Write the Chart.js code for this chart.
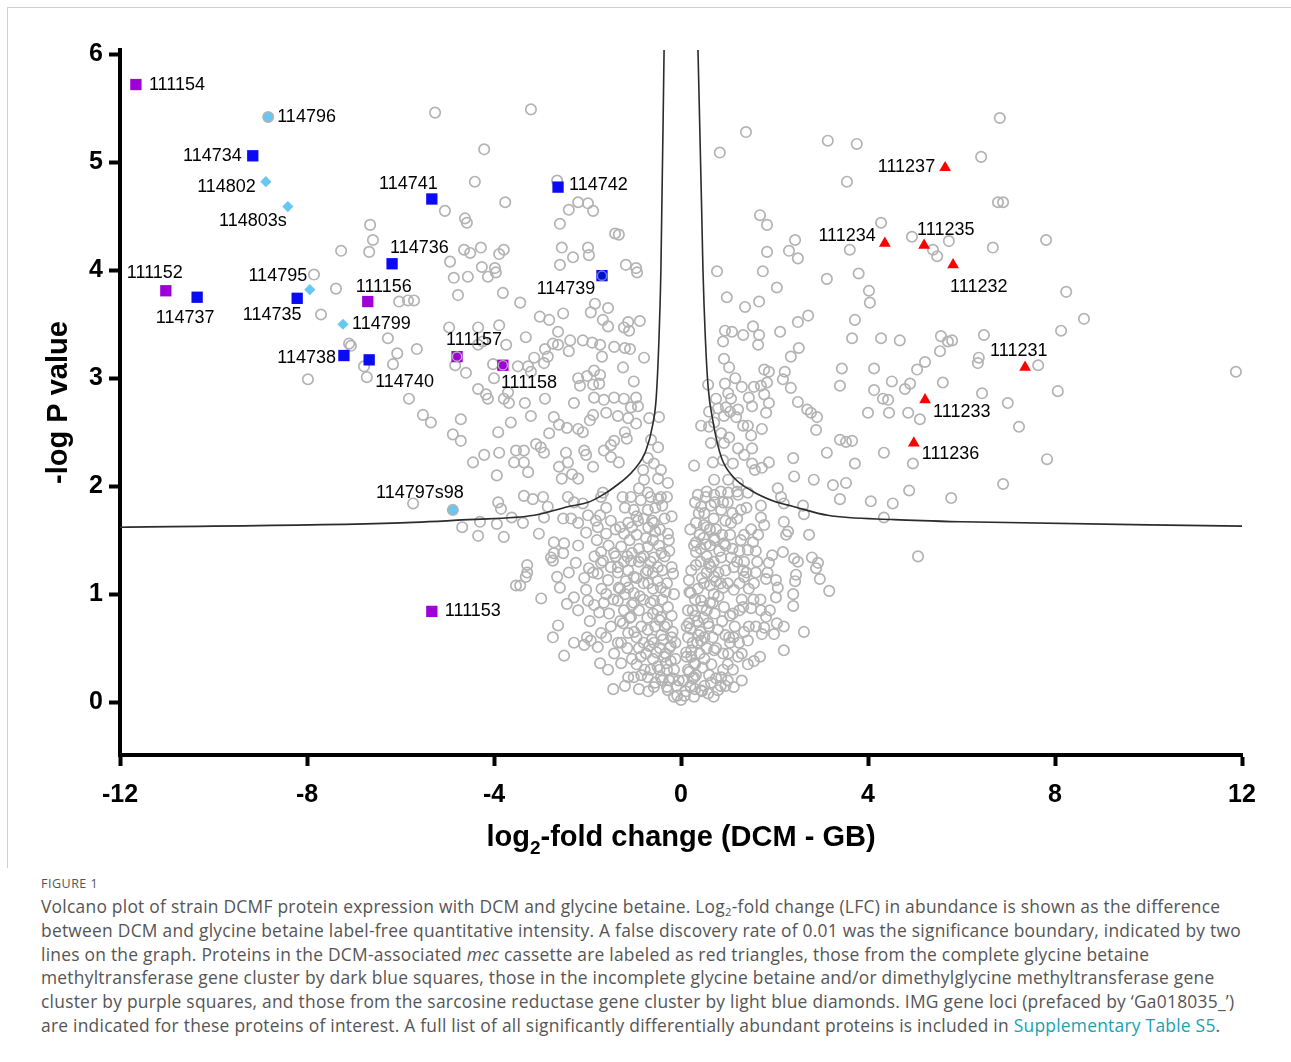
<!DOCTYPE html>
<html>
<head>
<meta charset="utf-8">
<title>Volcano plot DCMF</title>
<script src="https://cdn.jsdelivr.net/npm/chart.js@4.4.1/dist/chart.umd.min.js"></script>
<style>
    body { margin: 0; background: #fff; }
    #figure { position: relative; width: 1291px; height: 1062px; overflow: hidden; }
    #frame { position: absolute; left: 7px; top: 7px; width: 1300px; height: 860px; border-left: 1px solid #cfcfcf; border-top: 1px solid #cfcfcf; }
    #chartBox { position: absolute; left: 0; top: 0; width: 1291px; height: 870px; }
    #caption { position: absolute; left: 41px; top: 873px; font-family: "Open Sans", Lato, sans-serif; color: #555; }
    .figlabel { font-size: 12.5px; letter-spacing: 0.5px; height: 22px; line-height: 22px; }
    .line { font-size: 17.4px; letter-spacing: 0.25px; line-height: 23.8px; white-space: nowrap; }
    .teal { color: #1a9fb3; }
    sub { font-size: 0.65em; vertical-align: -0.25em; line-height: 0; }
</style>
</head>
<body>
<div id="figure">
    <div id="frame"></div>
    <div id="chartBox"><canvas id="volcanoChart"></canvas></div>
    <div id="caption">
        <div class="figlabel">FIGURE 1</div>
        <div class="line">Volcano plot of strain DCMF protein expression with DCM and glycine betaine. Log<sub>2</sub>-fold change (LFC) in abundance is shown as the difference</div>
        <div class="line">between DCM and glycine betaine label-free quantitative intensity. A false discovery rate of 0.01 was the significance boundary, indicated by two</div>
        <div class="line">lines on the graph. Proteins in the DCM-associated <i>mec</i> cassette are labeled as red triangles, those from the complete glycine betaine</div>
        <div class="line">methyltransferase gene cluster by dark blue squares, those in the incomplete glycine betaine and/or dimethylglycine methyltransferase gene</div>
        <div class="line">cluster by purple squares, and those from the sarcosine reductase gene cluster by light blue diamonds. IMG gene loci (prefaced by ‘Ga018035_’)</div>
        <div class="line">are indicated for these proteins of interest. A full list of all significantly differentially abundant proteins is included in <span class="teal">Supplementary Table S5</span>.</div>
    </div>
</div>

<script>
// Volcano plot data (log2 fold change, -log P value)

const xTickValues = [-12, -8, -4, 0, 4, 8, 12];
const yTickValues = [0, 1, 2, 3, 4, 5, 6];

// mec cassette (red triangles)
const mecIds = ['111237', '111234', '111235', '111232', '111231', '111233', '111236'];
const mecX = [5.65, 4.36, 5.20, 5.82, 7.36, 5.22, 4.98];
const mecY = [4.95, 4.25, 4.23, 4.05, 3.10, 2.80, 2.40];

// complete glycine betaine methyltransferase cluster (dark blue squares)
const gbmtIds = ['114734', '114741', '114742', '114736', '114737', '114735', '114738', '114740', '114739'];
const gbmtX = [-9.16, -5.33, -2.63, -6.18, -10.35, -8.21, -7.21, -6.67, -1.69];
const gbmtY = [5.06, 4.66, 4.77, 4.06, 3.75, 3.74, 3.21, 3.17, 3.95];

// incomplete cluster (purple squares)
const partIds = ['111154', '111152', '111156', '111157', '111158', '111153'];
const partX = [-11.66, -11.02, -6.70, -4.79, -3.81, -5.33];
const partY = [5.72, 3.81, 3.71, 3.20, 3.12, 0.84];

// sarcosine reductase cluster (light blue diamonds)
const sarcIds = ['114796', '114802', '114803s', '114795', '114799', '114797s98'];
const sarcX = [-8.83, -8.88, -8.41, -7.94, -7.23, -4.88];
const sarcY = [5.42, 4.82, 4.59, 3.82, 3.50, 1.78];

// FDR 0.01 boundary lines
const leftCurveX = [-12, -6, -4.56, -3.14, -2.42, -1.99, -1.71, -1.43, -1.01, -0.75, -0.60, -0.53, -0.47, -0.43, -0.36];
const leftCurveY = [1.62, 1.66, 1.69, 1.73, 1.81, 1.85, 1.91, 1.99, 2.15, 2.33, 2.58, 2.82, 3.38, 4.00, 6.10];
const rightCurveX = [0.36, 0.44, 0.47, 0.52, 0.58, 0.68, 0.86, 1.13, 1.50, 1.99, 2.42, 3.14, 4.56, 6, 12];
const rightCurveY = [6.10, 4.60, 4.00, 3.38, 2.92, 2.61, 2.27, 2.08, 1.96, 1.86, 1.81, 1.73, 1.69, 1.67, 1.63];

// all other proteins (grey open circles)
const greyUpperLeft = [
    [-6.65, 4.42], [-6.59, 4.28], [-6.67, 4.17], [-7.27, 4.18],
    [-5.26, 5.46], [-3.21, 5.49], [-4.21, 5.12], [-4.41, 4.82], [-3.76, 4.63], [-5.05, 4.55], [-4.62, 4.48],
    [-4.58, 4.44], [-2.65, 4.83], [-2.40, 4.56], [-2.20, 4.63], [-1.99, 4.62], [-1.88, 4.55], [-2.59, 4.43],
    [-1.41, 4.34], [-1.33, 4.33], [-2.55, 4.21], [-2.31, 4.12], [-1.99, 4.21], [-1.97, 4.14], [-2.59, 4.05],
    [-1.18, 4.05], [-0.96, 4.02], [-4.64, 4.19], [-4.51, 4.16], [-4.28, 4.21], [-3.89, 4.15], [-3.79, 4.19],
    [-4.94, 4.08], [-4.26, 4.03], [-3.98, 4.02],
    [-7.85, 3.96], [-7.38, 3.83], [-6.03, 3.71], [-7.70, 3.59],
    [-4.86, 3.93], [-4.56, 3.94], [-4.13, 3.94], [-3.96, 3.98], [-4.77, 3.77], [-3.81, 3.79], [-3.44, 3.70],
    [-5.84, 3.72], [-5.71, 3.72], [-3.02, 3.57], [-2.82, 3.54], [-2.52, 3.60], [-1.93, 3.61], [-1.84, 3.69],
    [-1.56, 3.65], [-1.67, 3.54], [-1.13, 3.52], [-0.88, 3.53], [-0.94, 3.98]
];
const greyMidLeft = [
    [-7.10, 3.32], [-7.06, 3.30], [-6.27, 3.37], [-6.07, 3.23], [-6.78, 3.11], [-6.72, 3.01], [-6.16, 3.13], [-7.98, 2.99],
    [-4.96, 3.47], [-4.34, 3.47], [-3.89, 3.49], [-3.32, 3.38], [-1.56, 3.48], [-1.22, 3.47], [-1.11, 3.44], [-2.63, 3.43],
    [-2.74, 3.32], [-2.63, 3.31], [-2.37, 3.35], [-2.10, 3.35], [-1.90, 3.33], [-1.73, 3.31], [-1.43, 3.29], [-1.20, 3.28],
    [-1.09, 3.27], [-0.79, 3.19], [-1.69, 3.20], [-2.40, 3.25], [-2.91, 3.27], [-2.85, 3.20], [-3.14, 3.19], [-5.65, 3.27],
    [-4.34, 3.31], [-4.24, 3.34], [-3.74, 3.31], [-4.83, 3.12], [-4.60, 3.05], [-4.02, 3.13], [-4.00, 3.00], [-3.49, 3.11],
    [-3.27, 3.11], [-3.21, 3.06], [-2.93, 3.14], [-2.20, 3.00], [-2.01, 3.02], [-1.86, 3.07], [-1.73, 3.03], [-2.16, 2.93],
    [-1.88, 2.94], [-1.75, 2.95], [-1.24, 3.10], [-1.01, 2.97],
    [-4.34, 2.90], [-4.17, 2.85], [-4.13, 2.81], [-3.70, 2.87], [-3.79, 2.81], [-3.68, 2.77], [-3.34, 2.77], [-2.91, 2.81],
    [-2.29, 2.77], [-1.86, 2.82], [-1.65, 2.80], [-1.43, 2.82], [-1.22, 2.81], [-0.96, 2.82], [-1.07, 2.73], [-0.92, 2.74],
    [-5.82, 2.81], [-5.52, 2.66], [-5.35, 2.59], [-4.71, 2.62], [-4.88, 2.48], [-4.71, 2.42], [-3.91, 2.50], [-3.64, 2.59],
    [-3.21, 2.65], [-2.72, 2.64], [-2.61, 2.57], [-2.44, 2.54], [-2.82, 2.49], [-2.20, 2.53], [-2.10, 2.50], [-1.88, 2.66],
    [-1.95, 2.61], [-1.60, 2.68], [-1.35, 2.65], [-1.13, 2.63], [-0.96, 2.58], [-1.20, 2.50], [-1.16, 2.44], [-1.43, 2.42],
    [-1.50, 2.38], [-1.65, 2.33], [-2.07, 2.33], [-2.03, 2.29], [-2.46, 2.31], [-2.42, 2.22], [-2.61, 2.18], [-2.93, 2.31],
    [-3.00, 2.36], [-3.10, 2.39], [-3.36, 2.33], [-3.53, 2.33], [-3.36, 2.22], [-3.27, 2.13], [-3.89, 2.31], [-4.21, 2.29],
    [-4.45, 2.22], [-3.94, 2.10], [-3.57, 2.22], [-2.33, 2.11], [-1.88, 2.18], [-1.50, 2.27], [-1.33, 2.22], [-0.68, 2.63],
    [-0.47, 2.64], [-0.64, 2.43], [-0.49, 2.36], [-0.71, 2.26], [-0.58, 2.21], [-0.43, 2.15], [-0.81, 2.15], [-0.79, 2.06],
    [-0.49, 2.07], [-0.28, 2.03], [-2.55, 2.07], [-2.20, 2.07]
];
const greyLowLeft = [
    [-5.73, 1.84], [-3.91, 1.85], [-3.85, 1.79], [-3.36, 1.91], [-3.17, 1.88], [-2.95, 1.90], [-2.85, 1.81], [-2.52, 1.70],
    [-2.42, 1.90], [-2.29, 1.85], [-2.10, 1.84], [-1.71, 1.90], [-1.67, 1.94], [-4.68, 1.62], [-4.30, 1.67], [-4.34, 1.54],
    [-3.94, 1.65], [-3.79, 1.53], [-3.38, 1.66], [-3.62, 1.71], [-2.93, 1.71], [-3.04, 1.56], [-2.20, 1.66], [-1.99, 1.73],
    [-2.03, 1.57], [-1.82, 1.68], [-1.78, 1.62], [-1.73, 1.73], [-1.50, 1.68], [-1.80, 1.50], [-1.60, 1.56], [-2.72, 1.48],
    [-2.50, 1.47], [-2.78, 1.34], [-2.72, 1.38], [-2.52, 1.38], [-2.74, 1.31], [-2.25, 1.29], [-3.29, 1.27], [-3.29, 1.20],
    [-3.32, 1.16], [-3.53, 1.08], [-3.44, 1.08], [-2.65, 1.16], [-2.59, 1.06], [-2.99, 0.96], [-2.44, 0.91], [-2.29, 0.97],
    [-2.07, 1.15], [-1.97, 1.24], [-1.88, 1.20], [-2.03, 1.04], [-1.99, 0.94], [-1.78, 1.19], [-1.71, 1.29], [-1.67, 1.31],
    [-1.71, 1.39], [-1.43, 1.38], [-1.56, 1.13], [-1.33, 1.06], [-1.86, 0.90], [-1.75, 0.83], [-1.65, 0.92], [-1.35, 0.94],
    [-1.54, 0.82], [-2.63, 0.71], [-2.74, 0.60], [-2.29, 0.55], [-2.07, 0.53], [-2.01, 0.60], [-1.93, 0.57], [-1.71, 0.64],
    [-1.78, 0.51], [-2.50, 0.43], [-1.73, 0.36], [-1.56, 0.30], [-1.43, 0.45], [-1.28, 0.55], [-1.13, 0.64], [-1.24, 0.73],
    [-1.07, 0.79], [-1.22, 0.85], [-1.01, 0.92], [-1.01, 1.01], [-1.13, 1.06], [-1.01, 1.16], [-1.13, 1.22], [-1.35, 1.25],
    [-1.07, 1.31], [-1.28, 1.44], [-1.22, 1.56], [-1.13, 1.66], [-1.01, 1.78], [-0.86, 1.87], [-1.07, 1.90], [-0.71, 1.94],
    [-0.43, 1.90], [-0.28, 1.56], [-0.26, 1.50], [-0.17, 1.19], [-0.43, 1.06], [-0.58, 1.34], [-0.86, 1.34], [-0.71, 1.44],
    [-0.58, 1.66], [-0.71, 1.78], [-0.92, 1.68], [-0.71, 1.22], [-0.58, 0.94], [-0.43, 0.79], [-0.71, 0.67], [-0.58, 0.55],
    [-0.36, 0.42], [-0.86, 0.42], [-1.01, 0.23], [-0.71, 0.23], [-0.43, 0.23], [-0.58, 0.14], [-0.28, 0.11], [-0.15, 0.05],
    [-1.28, 0.36], [-1.13, 0.23],
    [-0.15, 0.30], [-0.30, 0.30], [-0.25, 0.50], [-0.45, 0.50], [-0.35, 0.70], [-0.55, 0.70], [-0.20, 0.80], [-0.40, 0.95],
    [-0.60, 1.05], [-0.80, 1.10], [-0.30, 1.10], [-0.50, 1.25], [-0.90, 1.30], [-0.35, 1.35], [-0.60, 1.50], [-0.95, 1.55],
    [-0.45, 1.60], [-0.80, 1.70], [-0.55, 1.80], [-0.30, 1.90], [-1.20, 1.80], [-1.40, 1.60], [-1.55, 1.45], [-0.20, 0.60],
    [-0.10, 0.15], [-0.40, 0.20], [-0.60, 0.40], [-0.80, 0.55], [-1.00, 0.65], [-0.90, 0.85], [-1.20, 1.00], [-1.35, 1.20],
    [0, 0.02], [-0.08, 0.06], [-0.05, 0.20], [-0.25, 0.20]
];
const greyCoreLeft = [
    [-0.12, 0.40], [-0.22, 0.38], [-0.33, 0.45], [-0.50, 0.33], [-0.65, 0.30], [-0.75, 0.45], [-0.90, 0.50], [-1.05, 0.40],
    [-0.18, 0.65], [-0.42, 0.62], [-0.62, 0.58], [-0.72, 0.78], [-0.85, 0.70], [-1.10, 0.78], [-0.28, 0.88], [-0.50, 0.85],
    [-0.65, 0.92], [-0.80, 0.95], [-1.05, 0.90], [-1.30, 0.75], [-0.15, 1.00], [-0.33, 1.02], [-0.50, 1.12], [-0.70, 1.10],
    [-0.95, 1.15], [-1.18, 1.12], [-1.45, 0.95], [-0.20, 1.25], [-0.40, 1.22], [-0.65, 1.30], [-0.80, 1.35], [-1.05, 1.38],
    [-1.22, 1.30], [-1.50, 1.25], [-0.25, 1.40], [-0.47, 1.45], [-0.75, 1.52], [-1.10, 1.50], [-1.30, 1.62], [-0.35, 1.70],
    [-0.62, 1.68], [-0.95, 1.72], [-1.25, 1.90], [-0.48, 1.88], [-0.12, 0.55], [-0.55, 0.18], [-0.78, 0.30], [-0.30, 0.14],
    [-0.95, 0.60], [-1.60, 0.60], [-1.70, 1.05], [-1.85, 1.35], [-2.20, 1.45], [-2.35, 1.70], [-1.60, 1.80], [-0.90, 1.98],
    [-1.95, 0.75], [-2.20, 0.85], [-2.40, 1.20], [-1.45, 0.12], [-1.20, 0.15], [-0.90, 0.12], [-0.85, 0.25],
    [-0.18, 0.22], [-0.32, 0.36], [-0.46, 0.30], [-0.22, 0.52], [-0.38, 0.58], [-0.52, 0.46], [-0.68, 0.52], [-0.30, 0.72],
    [-0.46, 0.76], [-0.60, 0.82], [-0.88, 0.98], [-0.75, 1.20], [-0.60, 1.20], [-0.42, 1.38], [-0.90, 1.42], [-1.15, 1.35],
    [-0.55, 1.58], [-0.70, 1.62], [-1.05, 1.62], [-0.20, 1.72], [-0.40, 1.82], [-0.65, 1.90], [-1.40, 1.35], [-1.30, 1.05],
    [-1.60, 1.00], [-1.50, 0.70], [-1.35, 0.55], [-1.15, 0.50], [-0.95, 0.35], [-0.70, 0.10]
];
const greyUpperRight = [
    [0.83, 5.09], [1.39, 5.28], [3.14, 5.20], [3.76, 5.17], [3.55, 4.82], [1.69, 4.51], [1.84, 4.42], [2.44, 4.28],
    [2.31, 4.18], [2.50, 4.11], [1.84, 4.17], [3.61, 4.19], [4.28, 4.44], [4.94, 4.31], [5.39, 4.19], [5.48, 4.13],
    [5.73, 4.27], [0.77, 3.99], [1.75, 3.99], [3.80, 3.97],
    [6.82, 5.41], [6.42, 5.05], [6.78, 4.63], [6.89, 4.63], [6.67, 4.21], [7.81, 4.28],
    [2.05, 3.84], [3.12, 3.92], [4.02, 3.81], [4.04, 3.70], [0.98, 3.75], [1.37, 3.66], [1.67, 3.71], [2.72, 3.58],
    [2.50, 3.52], [3.72, 3.54], [8.24, 3.80], [8.62, 3.55]
];
const greyMidRight = [
    [0.94, 3.44], [1.09, 3.43], [1.33, 3.40], [1.54, 3.48], [1.67, 3.40], [1.65, 3.31], [0.90, 3.34], [2.12, 3.43],
    [2.52, 3.28], [2.35, 3.20], [3.66, 3.37], [4.28, 3.37], [4.68, 3.35], [5.56, 3.39], [5.71, 3.34], [5.80, 3.35],
    [5.54, 3.25], [5.22, 3.15], [5.05, 3.08], [4.90, 2.95], [4.79, 2.90], [5.60, 2.96], [4.51, 2.97], [4.13, 3.09],
    [3.44, 3.09], [3.40, 2.93], [4.13, 2.89], [4.32, 2.81], [4.43, 2.80], [4.00, 2.68], [4.45, 2.68], [4.86, 2.68],
    [5.11, 2.62], [0.92, 3.18], [1.03, 3.10], [1.78, 3.08], [1.88, 3.06], [2.22, 3.06], [2.18, 2.99], [2.35, 2.91],
    [2.50, 2.78], [2.70, 2.71], [2.78, 2.68], [2.91, 2.64], [2.89, 2.52], [0.58, 2.94], [0.94, 2.95], [1.16, 3.00],
    [1.30, 2.92], [1.56, 2.92], [1.71, 2.93], [1.84, 2.96], [0.75, 2.81], [1.01, 2.86], [1.07, 2.81], [1.45, 2.82],
    [1.78, 2.85], [1.88, 2.77], [1.52, 2.74], [0.60, 2.69], [0.79, 2.72], [0.96, 2.73], [1.05, 2.69], [1.22, 2.71],
    [1.18, 2.64], [0.92, 2.65], [1.82, 2.68], [0.43, 2.56], [0.60, 2.55], [0.71, 2.59], [1.33, 2.56], [1.43, 2.56],
    [1.50, 2.47], [1.73, 2.53], [0.86, 2.49], [1.03, 2.45], [0.64, 2.40], [0.92, 2.40], [1.22, 2.35], [1.52, 2.35],
    [1.35, 2.29], [0.68, 2.22], [0.90, 2.24], [1.11, 2.21], [0.28, 2.19], [1.52, 2.21], [1.73, 2.17], [1.88, 2.22],
    [1.58, 2.15], [2.40, 2.26], [2.42, 2.09], [2.84, 2.06], [3.12, 2.31], [3.40, 2.43], [3.53, 2.41], [3.66, 2.42],
    [3.72, 2.21], [4.34, 2.31], [4.96, 2.21], [0.71, 2.06], [1.01, 2.06], [1.22, 2.03], [3.25, 2.01], [3.53, 2.03],
    [2.07, 1.98], [4.88, 1.96],
    [8.13, 3.44], [6.48, 3.40], [6.37, 3.19], [6.35, 3.14], [7.64, 3.12], [6.44, 2.86], [6.99, 2.77], [8.06, 2.88],
    [7.23, 2.55], [11.87, 3.06], [7.83, 2.25], [6.89, 2.02]
];
const greyLowRight = [
    [5.78, 1.89], [4.34, 1.71], [4.06, 1.86], [4.53, 1.84], [3.40, 1.88], [5.07, 1.35],
    [0.36, 1.92], [0.53, 1.90], [0.71, 1.92], [1.01, 1.94], [1.22, 1.92], [1.43, 1.94], [1.71, 1.82], [2.14, 1.90],
    [2.20, 1.84], [2.61, 1.82], [2.63, 1.74], [2.20, 1.67], [2.29, 1.58], [2.74, 1.55], [1.71, 1.71], [1.78, 1.64],
    [1.65, 1.55], [1.28, 1.78], [1.07, 1.66], [0.86, 1.78], [0.64, 1.82], [0.43, 1.81], [0.32, 1.66], [0.49, 1.64],
    [0.32, 1.48], [0.32, 1.39], [0.32, 1.27], [0.21, 1.01], [0.15, 0.85], [0.15, 0.60], [0.11, 0.46], [0.53, 1.46],
    [0.71, 1.52], [0.92, 1.47], [0.86, 1.34], [0.64, 1.25], [1.07, 1.34], [1.28, 1.50], [1.43, 1.41], [1.54, 1.48],
    [1.63, 1.30], [1.33, 1.22], [1.13, 1.25], [1.88, 1.29], [1.95, 1.36], [2.18, 1.39], [2.42, 1.33], [2.80, 1.34],
    [2.93, 1.29], [2.89, 1.24], [2.46, 1.18], [2.44, 1.12], [2.97, 1.14], [3.17, 1.03], [2.03, 1.13], [2.07, 1.06],
    [2.03, 0.97], [1.82, 1.14], [1.56, 1.10], [1.35, 1.16], [1.13, 1.04], [0.90, 1.06], [0.71, 1.16], [0.49, 1.10],
    [0.43, 0.94], [0.68, 0.92], [0.92, 0.88], [1.11, 0.82], [1.33, 0.88], [1.50, 0.87], [1.71, 0.85], [1.82, 0.79],
    [2.40, 0.89], [2.05, 0.73], [1.78, 0.69], [1.99, 0.63], [1.73, 0.63], [2.63, 0.65], [1.43, 0.57], [1.24, 0.55],
    [1.03, 0.60], [0.79, 0.67], [0.58, 0.73], [0.43, 0.57], [0.71, 0.48], [1.01, 0.45], [1.22, 0.42], [2.20, 0.48],
    [1.69, 0.42], [1.56, 0.38], [1.43, 0.35], [1.11, 0.30], [1.13, 0.14], [0.86, 0.23], [0.64, 0.18], [0.43, 0.11],
    [0.28, 0.05], [0.58, 0.08], [0.79, 0.11], [0.28, 0.36], [0.28, 0.23], [0.17, 0.73], [0.17, 1.13],
    [0.15, 0.30], [0.30, 0.35], [0.40, 0.45], [0.25, 0.55], [0.50, 0.60], [0.35, 0.75], [0.55, 0.85], [0.30, 0.95],
    [0.70, 1.00], [0.45, 1.15], [0.80, 1.20], [0.55, 1.35], [0.95, 1.45], [0.40, 1.55], [0.75, 1.60], [0.50, 1.75],
    [0.90, 1.85], [1.20, 1.70], [1.35, 1.55], [1.50, 1.60], [0.60, 0.25], [0.90, 0.30], [1.05, 0.55], [1.15, 0.70],
    [1.30, 0.95], [1.45, 1.05], [0.20, 0.15], [0.10, 0.10], [0.45, 0.10],
    [0.08, 0.06], [0.05, 0.20], [0.25, 0.22]
];
const greyCoreRight = [
    [0.12, 0.42], [0.22, 0.48], [0.35, 0.55], [0.50, 0.40], [0.65, 0.35], [0.75, 0.50], [0.90, 0.45], [1.00, 0.20],
    [0.20, 0.68], [0.42, 0.65], [0.60, 0.70], [0.72, 0.82], [0.88, 0.75], [1.05, 0.80], [0.25, 0.85], [0.45, 0.88],
    [0.62, 1.08], [0.80, 0.98], [1.00, 1.10], [1.25, 1.10], [0.18, 1.02], [0.36, 1.05], [0.55, 1.20], [0.70, 1.30],
    [0.95, 1.22], [1.20, 1.30], [1.40, 1.20], [0.22, 1.22], [0.42, 1.30], [0.62, 1.45], [0.82, 1.40], [1.05, 1.55],
    [1.25, 1.40], [1.60, 1.40], [0.28, 1.45], [0.48, 1.52], [0.70, 1.70], [1.10, 1.75], [1.40, 1.80], [0.38, 1.75],
    [0.62, 1.60], [0.95, 1.68], [1.20, 1.95], [0.55, 1.95], [0.12, 0.70], [0.50, 0.15], [0.75, 0.22], [0.30, 0.12],
    [0.95, 0.62], [1.60, 0.70], [1.70, 0.95], [1.85, 1.20], [2.25, 1.55], [2.40, 1.00], [1.60, 1.20], [0.85, 1.95],
    [1.90, 0.85], [2.20, 0.70], [2.50, 1.30], [1.30, 0.20], [1.00, 0.35], [0.85, 0.15], [1.35, 0.65],
    [0.18, 0.28], [0.32, 0.25], [0.46, 0.32], [0.22, 0.42], [0.38, 0.62], [0.55, 0.50], [0.68, 0.60], [0.30, 0.80],
    [0.48, 0.78], [0.62, 0.92], [0.85, 1.10], [0.75, 1.12], [0.60, 1.28], [0.42, 1.42], [0.88, 1.55], [1.10, 1.42],
    [0.55, 1.62], [0.72, 1.50], [1.00, 1.85], [0.20, 1.60], [0.30, 1.85], [0.72, 1.85], [1.35, 1.30], [1.25, 0.85],
    [1.55, 0.95], [1.45, 0.70], [1.30, 0.45], [1.12, 0.60], [0.95, 0.15], [0.70, 0.05]
];

// label placement: [dx, dy, textAlign] relative to the marker, in pixels
const labelPos = {
    '111154': [13, 0, 'left'], '114796': [9, 0, 'left'], '114734': [-11, 0, 'right'],
    '114802': [-10, 5, 'right'], '114803s': [-35, 14, 'center'], '114741': [6, -15, 'right'],
    '114742': [11, -2, 'left'], '114736': [-2, -16, 'left'], '111152': [-11, -18, 'center'],
    '114737': [-12, 21, 'center'], '114795': [-32, -14, 'center'], '114735': [-25, 17, 'center'],
    '111156': [16, -15, 'center'], '114799': [9, 0, 'left'], '114738': [-8, 2, 'right'],
    '114740': [6, 22, 'left'], '111157': [-11, -17, 'left'], '111158': [-2, 18, 'left'],
    '114739': [-36, 13, 'center'], '114797s98': [-33, -17, 'center'], '111153': [13, 0, 'left'],
    '111237': [-10, -1, 'right'], '111234': [-9, -7, 'right'], '111235': [-7, -15, 'left'],
    '111232': [-3, 22, 'left'], '111231': [-35, -16, 'left'], '111233': [8, 12, 'left'],
    '111236': [8, 11, 'left']
};

const GREY = '#b3b3b3';
const RED = '#ff0000';
const BLUE = '#0a0af5';
const PURPLE = '#a000d8';
const LIGHT_BLUE = '#66c8f2';
const FONT = '"Liberation Sans", Arial, Helvetica, sans-serif';

function toPoints(xs, ys) {
    return xs.map((v, i) => ({ x: v, y: ys[i] }));
}

function pairs(list) {
    return list.map(p => ({ x: p[0], y: p[1] }));
}

const greyAll = pairs([].concat(greyUpperLeft, greyMidLeft, greyLowLeft, greyCoreLeft,
    greyUpperRight, greyMidRight, greyLowRight, greyCoreRight));

const labelGroups = [
    { ids: mecIds, x: mecX, y: mecY },
    { ids: gbmtIds, x: gbmtX, y: gbmtY },
    { ids: partIds, x: partX, y: partY },
    { ids: sarcIds, x: sarcX, y: sarcY }
];

// proteins drawn with a grey ring / inner dot on top of their marker
const ringedIds = ['111157', '111158', '114739'];

function ringedPoints() {
    const out = [];
    labelGroups.forEach(g => g.ids.forEach((id, i) => {
        if (ringedIds.includes(id)) out.push({ x: g.x[i], y: g.y[i], id: id });
    }));
    return out;
}

const pointLabelPlugin = {
    id: 'pointLabels',
    afterDatasetsDraw(chart) {
        const { ctx, scales } = chart;
        ctx.save();
        ctx.font = '18px ' + FONT;
        ctx.fillStyle = '#000';
        ctx.textBaseline = 'middle';
        labelGroups.forEach(g => {
            g.ids.forEach((id, i) => {
                const pos = labelPos[id];
                ctx.textAlign = pos[2];
                ctx.fillText(id, scales.x.getPixelForValue(g.x[i]) + pos[0], scales.y.getPixelForValue(g.y[i]) + pos[1]);
            });
        });
        ctx.restore();
    }
};

// x axis title with subscript 2
const xTitlePlugin = {
    id: 'xTitle',
    afterDraw(chart) {
        const { ctx, chartArea } = chart;
        const big = 'bold 29px ' + FONT;
        const small = 'bold 19px ' + FONT;
        const parts = [['log', big, 0], ['2', small, 8], ['-fold change (DCM - GB)', big, 0]];
        ctx.save();
        let total = 0;
        parts.forEach(p => { ctx.font = p[1]; total += ctx.measureText(p[0]).width; });
        let x = (chartArea.left + chartArea.right) / 2 - total / 2;
        const y = chartArea.bottom + 91;
        ctx.fillStyle = '#000';
        ctx.textBaseline = 'alphabetic';
        ctx.textAlign = 'left';
        parts.forEach(p => {
            ctx.font = p[1];
            ctx.fillText(p[0], x, y + p[2]);
            x += ctx.measureText(p[0]).width;
        });
        ctx.restore();
    }
};

function curveDataset(xs, ys) {
    return {
        type: 'line',
        data: toPoints(xs, ys),
        borderColor: '#2b2b2b',
        borderWidth: 1.6,
        pointRadius: 0,
        fill: false,
        cubicInterpolationMode: 'monotone',
        clip: 0,
        order: 2
    };
}

function initializeVolcanoChart() {
    const ctx = document.getElementById('volcanoChart').getContext('2d');
    const ringed = ringedPoints();

    new Chart(ctx, {
        type: 'scatter',
        data: {
            datasets: [
                {
                    label: 'other proteins',
                    data: greyAll,
                    pointStyle: 'circle',
                    pointRadius: 5.2,
                    pointBorderWidth: 1.7,
                    borderColor: GREY,
                    backgroundColor: 'rgba(0,0,0,0)',
                    order: 3
                },
                curveDataset(leftCurveX, leftCurveY),
                curveDataset(rightCurveX, rightCurveY),
                {
                    label: 'mec cassette',
                    data: toPoints(mecX, mecY),
                    pointStyle: 'triangle',
                    pointRadius: 6.8,
                    pointBorderWidth: 0,
                    backgroundColor: RED,
                    borderColor: RED,
                    order: 1
                },
                {
                    label: 'complete GBMT cluster',
                    data: toPoints(gbmtX, gbmtY),
                    pointStyle: 'rect',
                    pointRadius: 8,
                    pointBorderWidth: 0,
                    backgroundColor: BLUE,
                    borderColor: BLUE,
                    order: 1
                },
                {
                    label: 'incomplete GBMT cluster',
                    data: toPoints(partX, partY),
                    pointStyle: 'rect',
                    pointRadius: 8,
                    pointBorderWidth: 0,
                    backgroundColor: PURPLE,
                    borderColor: PURPLE,
                    order: 1
                },
                {
                    label: 'sarcosine reductase cluster',
                    data: toPoints(sarcX, sarcY),
                    pointStyle: sarcIds.map(id => (id === '114796' || id === '114797s98') ? 'circle' : 'rectRot'),
                    pointRadius: sarcIds.map(id => (id === '114796' || id === '114797s98') ? 5.2 : 5.6),
                    pointBorderWidth: sarcIds.map(id => (id === '114796' || id === '114797s98') ? 1.7 : 0),
                    backgroundColor: LIGHT_BLUE,
                    borderColor: sarcIds.map(id => (id === '114796' || id === '114797s98') ? GREY : LIGHT_BLUE),
                    order: 1
                },
                {
                    label: 'ringed',
                    data: ringed,
                    pointStyle: 'circle',
                    pointRadius: 4.6,
                    pointBorderWidth: 1.4,
                    backgroundColor: ringed.map(p => p.id === '114739' ? '#0010d0' : PURPLE),
                    borderColor: ringed.map(p => p.id === '114739' ? '#6f86c8' : GREY),
                    order: 0
                }
            ]
        },
        options: {
            responsive: true,
            maintainAspectRatio: false,
            animation: false,
            layout: {
                padding: { left: 0, right: 49, top: 50, bottom: 0 }
            },
            plugins: {
                legend: { display: false },
                tooltip: { enabled: false }
            },
            scales: {
                x: {
                    type: 'linear',
                    min: -12,
                    max: 12,
                    afterFit: scale => { scale.height = 115; },
                    afterBuildTicks: scale => { scale.ticks = xTickValues.map(v => ({ value: v })); },
                    border: { display: true, color: '#000', width: 4 },
                    grid: { display: true, drawOnChartArea: false, drawTicks: true, tickLength: 11, tickWidth: 4, tickColor: '#000' },
                    ticks: {
                        color: '#000',
                        padding: 14,
                        maxRotation: 0,
                        font: { family: FONT, size: 25, weight: 'bold' }
                    }
                },
                y: {
                    type: 'linear',
                    min: -0.49,
                    max: 6.04,
                    afterFit: scale => { scale.width = 120; },
                    afterBuildTicks: scale => { scale.ticks = yTickValues.map(v => ({ value: v })); },
                    border: { display: true, color: '#000', width: 4 },
                    grid: { display: true, drawOnChartArea: false, drawTicks: true, tickLength: 11, tickWidth: 4, tickColor: '#000' },
                    ticks: {
                        color: '#000',
                        padding: 6,
                        font: { family: FONT, size: 25, weight: 'bold' }
                    },
                    title: {
                        display: true,
                        text: '-log P value',
                        color: '#000',
                        padding: { top: 42, bottom: 0 },
                        font: { family: FONT, size: 29, weight: 'bold' }
                    }
                }
            }
        },
        plugins: [pointLabelPlugin, xTitlePlugin]
    });
}

document.addEventListener('DOMContentLoaded', function () {
    initializeVolcanoChart();
});
</script>
</body>
</html>
